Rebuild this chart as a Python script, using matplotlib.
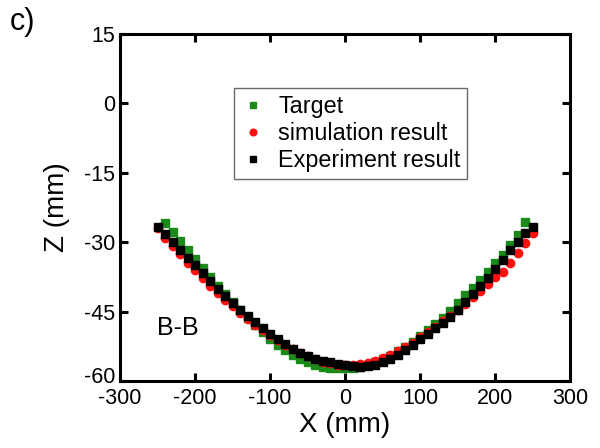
import matplotlib.pyplot as plt
import matplotlib.transforms as mtransforms

plt.rcParams['font.family'] = ['Liberation Sans', 'DejaVu Sans']
plt.rcParams['axes.unicode_minus'] = False

# Target profile
target_x = list(range(-240, 250, 10))
target_z = [-25.8, -27.8, -29.8, -31.8, -33.7, -35.6, -37.5, -39.4, -41.2, -43.0,
            -44.7, -46.4, -48.0, -49.5, -50.9, -52.2, -53.4, -54.4, -55.3, -56.0,
            -56.5, -56.9, -57.1, -57.2, -57.2, -57.1, -56.9, -56.5, -56.0, -55.3,
            -54.5, -53.6, -52.6, -51.5, -50.3, -49.0, -47.7, -46.3, -44.8, -43.2,
            -41.5, -39.8, -38.1, -36.4, -34.6, -32.7, -30.6, -28.4, -25.7]

# Simulation result
sim_x = list(range(-250, 260, 10))
sim_z = [-27.0, -29.0, -30.8, -32.6, -34.4, -36.1, -37.8, -39.4, -41.0, -42.5,
         -43.9, -45.3, -46.6, -47.8, -49.0, -50.1, -51.2, -52.2, -53.1, -53.9,
         -54.6, -55.3, -55.8, -56.2, -56.5, -56.6, -56.6, -56.4, -56.1, -55.7,
         -55.1, -54.4, -53.6, -52.7, -51.7, -50.6, -49.5, -48.3, -47.1, -45.9,
         -44.6, -43.3, -41.9, -40.5, -39.0, -37.6, -36.4, -34.5, -32.3, -30.2,
         -28.0]

# Experiment result
exp_x = list(range(-250, 260, 10))
exp_z = [-26.8, -28.3, -29.9, -31.6, -33.4, -35.0, -36.7, -38.4, -40.1, -41.6,
         -43.1, -44.6, -46.0, -47.3, -48.6, -49.8, -51.0, -52.0, -53.0, -53.9,
         -54.6, -55.2, -55.7, -56.0, -56.3, -56.6, -56.8, -56.9, -56.8, -56.5,
         -56.0, -55.2, -54.3, -53.3, -52.2, -51.0, -49.8, -48.6, -47.4, -46.1,
         -44.6, -43.0, -41.2, -39.5, -37.7, -35.8, -33.9, -31.8, -30.0, -28.0,
         -26.7]

fig = plt.figure(figsize=(6, 4.48), dpi=100)
ax = fig.add_axes([0.2, 0.1496, 0.75, 0.7746])

ax.plot(target_x, target_z, 's', color='#1a8a1a', markersize=6, label='Target')
ax.plot(sim_x, sim_z, 'o', color='#ff1010', markersize=6, label='simulation result')
ax.plot(exp_x, exp_z, 's', color='black', markersize=6, label='Experiment result')

ax.set_xlim(-300, 300)
ax.set_ylim(-60, 15)
ax.set_xticks(range(-300, 301, 100))
ax.set_yticks(range(-60, 16, 15))
ax.tick_params(direction='in', top=True, right=True, labelsize=15.5,
               width=2.2, length=6)
ax.tick_params(axis='x', pad=5)
for s in ax.spines.values():
    s.set_linewidth(2.2)

# lift the bottom y label a little, like the original
fig.canvas.draw()
lab = ax.get_yticklabels()[0]
lab.set_transform(lab.get_transform() +
                  mtransforms.ScaledTranslation(0, 6 / 100, fig.dpi_scale_trans))

ax.set_xlabel('X (mm)', fontsize=20, labelpad=2)
ax.set_ylabel('Z (mm)', fontsize=20, labelpad=10)

ax.text(-223, -48.6, 'B-B', fontsize=18, ha='center', va='center')
fig.text(0.017, 0.951, 'c)', fontsize=22, ha='left', va='center')

leg = ax.legend(loc='upper left', bbox_to_anchor=(0.253, 0.844), fontsize=16.8,
                frameon=True, fancybox=False, edgecolor='#444444',
                handlelength=1.0, handletextpad=0.6, borderpad=0.3,
                labelspacing=0.18, markerscale=0.8, borderaxespad=0)
leg.get_frame().set_linewidth(1)

fig.savefig('out.png', dpi=100)
